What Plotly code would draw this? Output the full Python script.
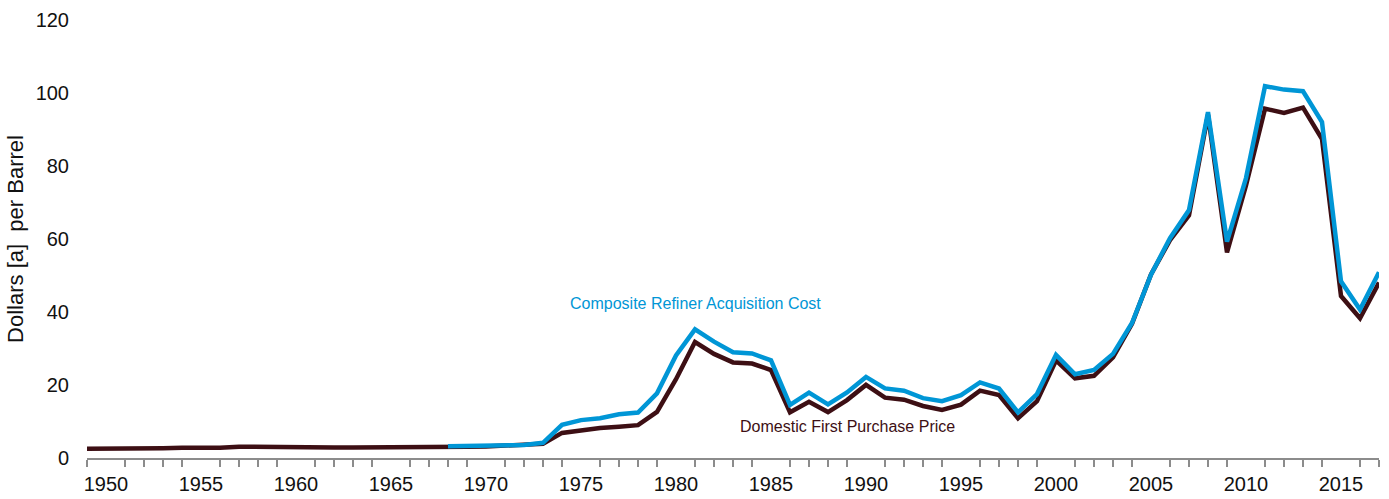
import plotly.graph_objects as go

years_dom = list(range(1949, 2018))
domestic_first_purchase = [
    2.54, 2.51, 2.53, 2.53, 2.68, 2.78, 2.77, 2.79, 3.09, 3.01,
    2.90, 2.88, 2.89, 2.90, 2.89, 2.88, 2.86, 2.88, 2.92, 2.94,
    3.09, 3.18, 3.39, 3.39, 3.89, 6.87, 7.67, 8.19, 8.57, 9.00,
    12.64, 21.59, 31.77, 28.52, 26.19, 25.88, 24.09, 12.51, 15.40, 12.58,
    15.86, 20.03, 16.54, 15.99, 14.25, 13.19, 14.62, 18.46, 17.23, 10.87,
    15.56, 26.72, 21.84, 22.51, 27.56, 36.77, 50.28, 59.69, 66.52, 94.04,
    56.35, 74.71, 95.73, 94.52, 95.99, 87.39, 44.39, 38.29, 48.05,
]

years_rac = list(range(1968, 2018))
composite_refiner_cost = [
    3.21, 3.37, 3.40, 3.60, 3.58, 4.15, 9.07, 10.38, 10.89, 11.96,
    12.46, 17.72, 28.07, 35.24, 31.87, 28.99, 28.63, 26.75, 14.55, 17.90,
    14.67, 17.97, 22.22, 19.06, 18.43, 16.41, 15.59, 17.23, 20.71, 19.04,
    12.52, 17.51, 28.26, 22.95, 24.10, 28.53, 36.98, 50.24, 60.24, 67.94,
    94.74, 59.29, 76.69, 101.87, 100.93, 100.49, 92.02, 48.40, 40.68, 50.88,
]

FONT = "Liberation Sans, Arial, sans-serif"
BLUE = "#0096d6"
DARK = "#3d0f14"

fig = go.Figure()
fig.add_trace(go.Scatter(x=years_dom, y=domestic_first_purchase, mode="lines",
                         line=dict(color=DARK, width=4.5), showlegend=False))
fig.add_trace(go.Scatter(x=years_rac, y=composite_refiner_cost, mode="lines",
                         line=dict(color=BLUE, width=4.5), showlegend=False))

fig.add_annotation(x=1981.0, y=42.2, text="Composite Refiner Acquisition Cost",
                   showarrow=False, font=dict(family=FONT, size=16, color=BLUE))
fig.add_annotation(x=1989.0, y=8.5, text="Domestic First Purchase Price",
                   showarrow=False, font=dict(family=FONT, size=16, color=DARK))

fig.update_layout(
    width=1389, height=499,
    margin=dict(l=87, r=10, t=20, b=41),
    paper_bgcolor="white", plot_bgcolor="white",
    font=dict(family=FONT, size=20, color="#111111"),
)
fig.update_xaxes(
    range=[1949, 2017], tickmode="linear", tick0=1950, dtick=5,
    showgrid=False, zeroline=False, showline=True, linecolor="#8c8c8c", linewidth=2,
    ticks="", ticklabelstandoff=7, automargin=False,
    minor=dict(tickmode="linear", tick0=1949, dtick=1, ticks="outside",
               ticklen=7, tickcolor="#8c8c8c", tickwidth=1.5),
)
fig.update_yaxes(
    range=[0, 120], tickmode="linear", tick0=0, dtick=20,
    showgrid=False, zeroline=False, showline=False, ticks="",
    ticklabelstandoff=17, automargin=False,
    title=dict(text="Dollars [a]  per Barrel", font=dict(size=22), standoff=5),
)

# drop the browser's default page margin so the figure sits at the top-left corner
fig.write_html("out.html", config={"displayModeBar": False},
               post_script="document.body.style.margin='0';document.body.style.padding='0';")
